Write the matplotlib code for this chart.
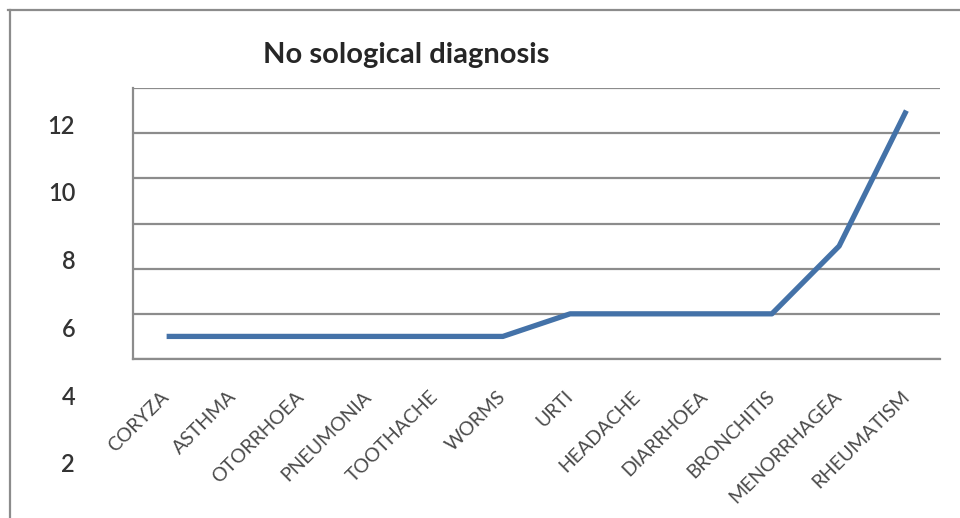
import matplotlib
matplotlib.use("Agg")
import matplotlib.pyplot as plt
from matplotlib.lines import Line2D

# diagnosis counts
diagnoses = ['CORYZA', 'ASTHMA', 'OTORRHOEA', 'PNEUMONIA', 'TOOTHACHE', 'WORMS',
             'URTI', 'HEADACHE', 'DIARRHOEA', 'BRONCHITIS', 'MENORRHAGEA', 'RHEUMATISM']
counts = [5, 5, 5, 5, 5, 5, 6, 6, 6, 6, 9, 15]
grid_values = [4, 6, 8, 10, 12, 14, 16]
side_labels = [2, 4, 6, 8, 10, 12]

plt.rcParams['font.family'] = ['Lato', 'DejaVu Sans']

W, H = 960, 518
fig = plt.figure(figsize=(W / 100, H / 100), dpi=100)
fig.patch.set_facecolor('white')

def px_box(left, top, right, bottom):
    return [left / W, 1 - bottom / H, (right - left) / W, (bottom - top) / H]

ax = fig.add_axes(px_box(133, 88, 940, 359))
x = list(range(len(diagnoses)))
ax.plot(x, counts, color='#4472a8', linewidth=3.8, solid_capstyle='butt',
        solid_joinstyle='round', zorder=3)

ax.set_xlim(-0.5, len(diagnoses) - 0.5)
ax.set_ylim(grid_values[0], grid_values[-1])
ax.set_yticks(grid_values)
ax.yaxis.grid(True, color='#8c8c8c', linewidth=1.6)
ax.set_axisbelow(True)
ax.tick_params(axis='y', length=0, labelleft=False)
ax.tick_params(axis='x', length=0, pad=25)
ax.set_xticks(x)
ax.set_xticklabels(diagnoses, rotation=45, ha='right', va='center',
                   rotation_mode='anchor', fontsize=14, color='#4a4a4a')
for side in ['top', 'right']:
    ax.spines[side].set_visible(False)
for side in ['left', 'bottom']:
    ax.spines[side].set_color('#8c8c8c')
    ax.spines[side].set_linewidth(1.6)

# value labels down the left side
lab = fig.add_axes(px_box(78, 124, 79, 463))
lab.set_ylim(side_labels[0], side_labels[-1])
lab.set_yticks(side_labels)
lab.set_yticklabels([str(v) for v in side_labels], fontsize=17,
                    fontweight='semibold', color='#333333')
lab.tick_params(axis='y', length=0, pad=2)
lab.set_xticks([])
for s in lab.spines.values():
    s.set_visible(False)
lab.patch.set_alpha(0)

fig.text(406 / W, 1 - 55 / H, 'No sological diagnosis', ha='center', va='center',
         fontsize=21, fontweight='bold', color='#262626')

# outer frame
fig.add_artist(Line2D([8 / W, 1], [1 - 10 / H, 1 - 10 / H], color='#8c8c8c',
                      linewidth=1.6, transform=fig.transFigure))
fig.add_artist(Line2D([10 / W, 10 / W], [1 - 10 / H, 0], color='#8c8c8c',
                      linewidth=1.6, transform=fig.transFigure))

fig.savefig('out.png', dpi=100)
